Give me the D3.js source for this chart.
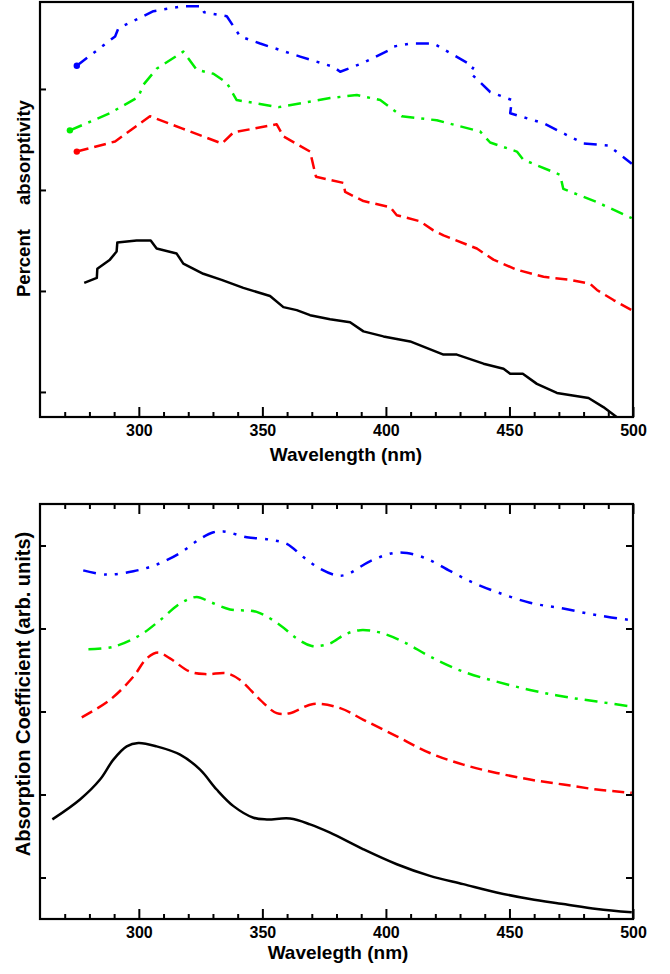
<!DOCTYPE html>
<html>
<head>
<meta charset="utf-8">
<script src="https://cdn.jsdelivr.net/npm/d3@7/dist/d3.min.js"></script>
<style>
body { margin: 0; background: #fff; }
text { font-family: "Liberation Sans", Arial, sans-serif; font-weight: bold; fill: #000; }
</style>
</head>
<body>
<svg id="chart" width="670" height="974"></svg>
<script>
// wavelength axis (nm)
var xDomain = [260, 500];
var xMajor = [300, 350, 400, 450, 500];
var xMinor = [270, 280, 290, 310, 320, 330, 340, 360, 370, 380, 390, 410, 420, 430, 440, 460, 470, 480, 490];

// ---- top panel: percent absorptivity (offset curves, arbitrary units) ----
var topYDomain = [0.752, 4.861];
var topYTicks = [1, 2, 3, 4];

var topBlack = [[277.9,2.08],[283,2.13],[283.2,2.22],[288.3,2.31],[291,2.39],[291.3,2.48],[299.1,2.50],[304.8,2.50],
  [307.2,2.42],[315.3,2.37],[318,2.27],[326.1,2.17],[333.5,2.11],[342.3,2.03],[353.1,1.95],[358.5,1.84],[363.9,1.81],
  [369.3,1.76],[377.4,1.72],[385.5,1.69],[390.9,1.60],[399,1.55],[409.8,1.50],[423.3,1.37],[428.7,1.37],[439.5,1.28],
  [447.6,1.23],[450.3,1.18],[455.4,1.18],[461.1,1.08],[469.2,0.99],[482,0.94],[488,0.85],[493.5,0.75]];

var topRed = [[274.9,3.38],[290.4,3.48],[304.5,3.73],[317.4,3.61],[333.6,3.46],[338.3,3.57],[355.8,3.65],[358.5,3.53],
  [369.3,3.38],[371.7,3.13],[382.8,3.07],[383.5,2.98],[390.9,2.89],[401.7,2.83],[404.4,2.75],[413.8,2.69],[419.2,2.60],
  [423.3,2.55],[436.8,2.42],[443.5,2.31],[453,2.21],[463.8,2.14],[474.6,2.11],[482.7,2.07],[485.4,2.01],[492.1,1.91],[499.5,1.81]];

var topGreen = [[272.1,3.59],[288.3,3.76],[299.8,3.92],[301.8,4.04],[307.2,4.20],[318,4.37],[323.4,4.19],[330.2,4.15],
  [335.6,4.06],[339.6,3.89],[356.5,3.82],[377.4,3.91],[388.2,3.94],[397.7,3.89],[406.4,3.73],[420.6,3.69],[430,3.63],
  [438.1,3.58],[442.2,3.47],[453,3.38],[455.6,3.30],[470.5,3.15],[471.8,3.01],[485.4,2.88],[499.5,2.72]];

var topBlue = [[274.9,4.23],[290.4,4.52],[291.7,4.60],[305.9,4.77],[318,4.82],[325.5,4.82],[326.4,4.76],[335.6,4.72],
  [341,4.52],[349.1,4.45],[365.3,4.32],[378.7,4.22],[381.5,4.17],[390.9,4.26],[401.7,4.39],[403.1,4.42],[409.8,4.45],
  [419.3,4.45],[432.8,4.26],[435.5,4.22],[434.1,4.16],[442.2,3.97],[451,3.89],[450.3,3.76],[463.8,3.66],[480,3.46],
  [490.1,3.44],[499.5,3.26]];

// ---- bottom panel: absorption coefficient (arb. units) ----
var botYDomain = [0.5, 5.5];
var botYTicks = [1, 2, 3, 4, 5];

var botBlack = [[265,1.70],[276.2,1.94],[284.3,2.18],[289.7,2.42],[295.1,2.58],[299.8,2.62],[307.2,2.58],[316.7,2.48],
  [324.8,2.30],[331.5,2.06],[338.3,1.86],[346.4,1.72],[351.8,1.70],[361.2,1.71],[369.3,1.64],[377.4,1.54],[390.9,1.34],
  [404.4,1.16],[417.8,1.02],[431.3,0.92],[444.8,0.82],[458.3,0.74],[471.8,0.68],[485.4,0.62],[499.5,0.58]];

var botRed = [[276.9,2.93],[288.3,3.14],[297.8,3.42],[303.2,3.64],[307.9,3.71],[312.6,3.64],[320.7,3.48],[327.5,3.45],
  [335.6,3.46],[341,3.38],[349.1,3.14],[355.8,2.98],[361.2,2.98],[370.6,3.09],[381.5,3.04],[390.9,2.90],[404.4,2.70],
  [417.8,2.50],[431.3,2.36],[444.8,2.26],[458.3,2.18],[471.8,2.12],[485.4,2.06],[499.5,2.02]];

var botGreen = [[279.6,3.75],[289.7,3.78],[300.5,3.92],[308.6,4.10],[316.7,4.30],[323.4,4.38],[328.8,4.32],[336.9,4.23],
  [347.7,4.20],[357.2,4.04],[363.9,3.88],[370,3.79],[377.4,3.82],[383.5,3.93],[389.6,3.98],[397.7,3.95],[407.1,3.84],
  [418,3.66],[431.3,3.48],[444.8,3.36],[458.3,3.26],[471.8,3.18],[485.4,3.12],[499.5,3.06]];

var botBlue = [[277.5,4.70],[287,4.65],[297.8,4.69],[307.2,4.77],[316.7,4.91],[324.8,5.08],[330.2,5.16],[334.2,5.17],
  [343.7,5.10],[353.1,5.07],[359.9,5.02],[366.6,4.86],[373.4,4.72],[380.1,4.64],[384.1,4.65],[393.5,4.81],[403.1,4.91],
  [408.5,4.91],[416.6,4.84],[426.1,4.69],[435.5,4.55],[444.8,4.44],[458.3,4.31],[471.8,4.24],[485.4,4.16],[499.5,4.10]];

var styles = {
    black: { color: "#000000", dash: null },
    red:   { color: "#ff0000", dash: "12,6" },
    green: { color: "#00ee00", dash: "13,7,3,7" },
    blue:  { color: "#0000ff", dash: "13,8,3,8,3,8" }
};

var svg = d3.select("#chart");

function drawPanel(p) {
    var x = d3.scaleLinear().domain(xDomain).range([p.left, p.right]);
    var y = d3.scaleLinear().domain(p.yDomain).range([p.bottom, p.top]);
    var g = svg.append("g");

    g.append("clipPath").attr("id", "clip" + p.id)
        .append("rect")
        .attr("x", p.left).attr("y", p.top)
        .attr("width", p.right - p.left).attr("height", p.bottom - p.top);

    var line = d3.line()
        .x(function(d) { return x(d[0]); })
        .y(function(d) { return y(d[1]); })
        .curve(p.curve);

    p.series.forEach(function(s) {
        var st = styles[s.style];
        g.append("path")
            .datum(s.data)
            .attr("clip-path", "url(#clip" + p.id + ")")
            .attr("fill", "none")
            .attr("stroke", st.color)
            .attr("stroke-width", 2.5)
            .attr("stroke-linejoin", "round")
            .attr("stroke-dasharray", st.dash)
            .attr("d", line);
        if (s.marker) {
            g.append("circle")
                .attr("cx", x(s.data[0][0]))
                .attr("cy", y(s.data[0][1]))
                .attr("r", 3.2)
                .attr("fill", st.color);
        }
    });

    // bottom axis, ticks inward
    var xa = g.append("g").attr("transform", "translate(0," + p.bottom + ")")
        .call(d3.axisBottom(x).tickValues(xMajor).tickSize(-10).tickPadding(8));
    xa.append("g").call(d3.axisBottom(x).tickValues(xMinor).tickSize(-5).tickFormat(""));
    if (p.topTicks) {
        var xt = g.append("g").attr("transform", "translate(0," + p.top + ")")
            .call(d3.axisTop(x).tickValues(xMajor).tickSize(-10).tickFormat(""));
        xt.append("g").call(d3.axisTop(x).tickValues(xMinor).tickSize(-5).tickFormat(""));
    }
    g.append("g").attr("transform", "translate(" + p.left + ",0)")
        .call(d3.axisLeft(y).tickValues(p.yTicks).tickSize(-6).tickFormat(""));
    if (p.rightTicks) {
        g.append("g").attr("transform", "translate(" + p.right + ",0)")
            .call(d3.axisRight(y).tickValues(p.yTicks).tickSize(-7).tickFormat(""));
    }

    g.selectAll(".domain").remove();
    g.selectAll(".tick line").attr("stroke", "#000").attr("stroke-width", 2);
    g.selectAll(".tick text")
        .style("font-size", "16px")
        .style("font-family", "'Liberation Sans', Arial, sans-serif")
        .style("font-weight", "bold")
        .attr("fill", "#000");

    g.append("rect")
        .attr("x", p.left).attr("y", p.top)
        .attr("width", p.right - p.left).attr("height", p.bottom - p.top)
        .attr("fill", "none").attr("stroke", "#000").attr("stroke-width", 2.2);

    g.append("text")
        .attr("x", p.xTitleX).attr("y", p.xTitleY)
        .attr("text-anchor", "middle")
        .style("font-size", "19px")
        .text(p.xTitle);

    p.yTitles.forEach(function(t) {
        g.append("text")
            .attr("transform", "translate(" + t.x + "," + t.y + ") rotate(-90)")
            .attr("text-anchor", t.anchor)
            .style("font-size", t.size + "px")
            .text(t.text);
    });
}

drawPanel({
    id: "top", left: 40, right: 633, top: 2, bottom: 417,
    yDomain: topYDomain, yTicks: topYTicks,
    curve: d3.curveLinear, topTicks: false, rightTicks: false,
    series: [
        { data: topBlack, style: "black" },
        { data: topRed, style: "red", marker: true },
        { data: topGreen, style: "green", marker: true },
        { data: topBlue, style: "blue", marker: true }
    ],
    xTitle: "Wavelength (nm)", xTitleX: 346, xTitleY: 461,
    yTitles: [
        { text: "Percent", x: 30, y: 297, anchor: "start", size: 18.5 },
        { text: "absorptivity", x: 30, y: 205, anchor: "start", size: 18.5 }
    ]
});

drawPanel({
    id: "bot", left: 40, right: 633, top: 504, bottom: 919,
    yDomain: botYDomain, yTicks: botYTicks,
    curve: d3.curveCatmullRom.alpha(0.5), topTicks: true, rightTicks: true,
    series: [
        { data: botBlack, style: "black" },
        { data: botRed, style: "red" },
        { data: botGreen, style: "green" },
        { data: botBlue, style: "blue" }
    ],
    xTitle: "Wavelegth (nm)", xTitleX: 338, xTitleY: 959,
    yTitles: [
        { text: "Absorption Coefficient (arb. units)", x: 30, y: 694, anchor: "middle", size: 20 }
    ]
});
</script>
</body>
</html>
